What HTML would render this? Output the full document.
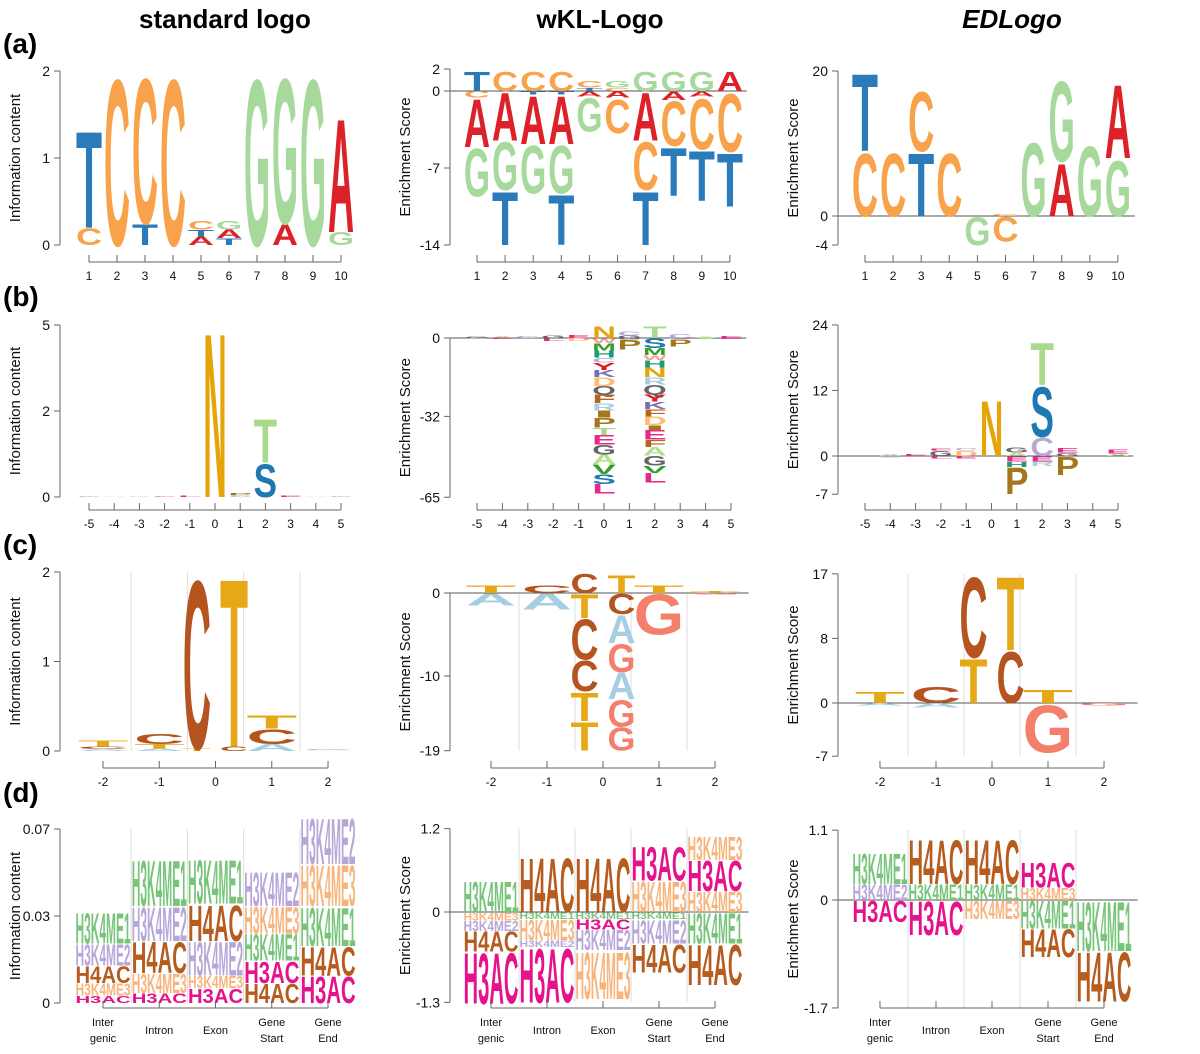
<!DOCTYPE html>
<html><head><meta charset="utf-8">
<style>
html,body{margin:0;padding:0;background:#fff;}
svg{display:block;font-family:"Liberation Sans",sans-serif;}
</style></head>
<body>
<svg id="fig" width="1200" height="1054" viewBox="0 0 1200 1054">
<text x="225" y="28" font-size="26" font-weight="bold" text-anchor="middle">standard logo</text>
<text x="600" y="28" font-size="26" font-weight="bold" text-anchor="middle">wKL-Logo</text>
<text x="1012" y="28" font-size="26" font-weight="bold" font-style="italic" text-anchor="middle">EDLogo</text>
<text x="3" y="53" font-size="28" font-weight="bold">(a)</text>
<text x="3" y="306" font-size="28" font-weight="bold">(b)</text>
<text x="3" y="554" font-size="28" font-weight="bold">(c)</text>
<text x="3" y="802" font-size="28" font-weight="bold">(d)</text>
</svg>
<script>
// ---------- data ----------
const dnaLabels = ["1","2","3","4","5","6","7","8","9","10"];
const aaLabels = ["-5","-4","-3","-2","-1","0","1","2","3","4","5"];
const methLabels = ["-2","-1","0","1","2"];
const regionLabels = [["Inter","genic"],["Intron"],["Exon"],["Gene","Start"],["Gene","End"]];
const methXs = [0,1,1.67,2.33,3,4];
const methWs = [0.9,0.9,0.5,0.5,0.9,0.9];

// row a
const aStdPos = [[["C",0.2],["T",1.15]],[["C",1.98]],[["T",0.25],["C",1.73]],[["C",1.98]],[["A",0.1],["T",0.08],["C",0.1]],[["T",0.08],["A",0.1],["G",0.1]],[["G",1.98]],[["A",0.25],["G",1.73]],[["G",1.98]],[["G",0.15],["A",1.35]]];
const aWklPos = [[["T",1.8]],[["C",1.8]],[["C",1.8]],[["C",1.8]],[["T",0.3],["C",0.6]],[["C",0.3],["G",0.6]],[["G",1.8]],[["G",1.8]],[["G",1.8]],[["A",1.8]]];
const aWklNeg = [[["C",0.6],["A",4.5],["G",4.5]],[["A",4.5],["G",4.5],["T",5]],[["T",0.3],["A",4.5],["G",4.5]],[["T",0.3],["A",4.5],["G",4.5],["T",4.7]],[["A",0.5],["G",3.2]],[["A",0.6],["C",3.2]],[["A",4.5],["C",4.5],["T",5]],[["A",0.8],["C",4.2],["T",4.5]],[["A",0.5],["C",4.8],["T",4.7]],[["C",5.5],["T",5]]];
const aEdPos = [[["C",9],["T",11]],[["C",9]],[["T",9],["C",8.5]],[["C",9]],[],[["C",0.3]],[["G",10.5]],[["A",7.5],["G",11.5]],[["G",10]],[["G",8],["A",10.5]]];
const aEdNeg = [[],[],[],[],[["G",4]],[["C",3.5]],[],[],[],[]];

// row b
const bStdPos = [[["G",0.02]],[["A",0.02]],[["C",0.02]],[["E",0.02]],[["L",0.03]],[["N",4.95]],[["C",0.06],["P",0.06]],[["S",1.0],["T",1.3]],[["E",0.04]],[["A",0.02]],[["G",0.02]]];
const bWklPos = [[["G",0.5]],[["A",0.7]],[["C",0.8]],[["G",1]],[["E",1.3]],[["N",5]],[["G",1],["C",1.5]],[["T",5]],[["C",1.5]],[["A",0.6]],[["E",0.8]]];
const bWklNeg = [[["A",0.3]],[["E",0.5]],[["G",0.3]],[["L",1.2]],[["D",1.3]],[["W",2],["M",3],["H",3],["C",2],["Y",3],["K",3],["D",3.5],["Q",3.5],["F",3.5],["R",3],["I",3],["P",4],["T",3],["E",4],["G",4],["A",4],["V",4],["S",4],["L",4]],[["G",0.7],["P",4]],[["S",4],["M",3],["W",2],["H",3],["N",4],["R",3],["Q",4],["Y",3],["K",3],["F",3],["D",3.5],["I",2],["E",4],["F",3],["A",3.5],["G",4],["V",3],["L",4]],[["C",0.5],["P",3]],[["A",0.4]],[["E",0.4]]];
const bEdPos = [[],[["A",0.4]],[["E",0.3]],[["G",1],["E",0.4]],[["D",1],["C",0.5]],[["N",10.5]],[["A",0.6],["G",1]],[["C",3.5],["S",9.5],["T",8]],[["G",0.6],["E",0.8]],[],[["A",0.5],["E",0.7]]];
const bEdNeg = [[],[["C",0.3]],[],[["L",0.5]],[["E",0.5]],[],[["E",1],["H",1],["P",5]],[["E",1],["R",0.8]],[["P",3.5]],[],[]];

// row c
const cStdPos = [[["A",0.02],["C",0.03],["T",0.07]],[["A",0.03],["T",0.05],["C",0.12]],[["T",0.03],["C",1.95]],[["C",0.05],["T",1.95]],[["A",0.08],["C",0.17],["T",0.15]],[["A",0.01],["C",0.01]]];
const cWklPos = [[["T",1]],[["C",1]],[["C",2.4]],[["T",2.2]],[["T",1]],[["T",0.2]]];
const cWklNeg = [[["A",1.5]],[["A",2]],[["T",3],["C",5],["C",3.8],["T",3.6],["T",3.6]],[["C",2.5],["A",3.5],["G",3.5],["A",3.3],["G",3.3],["G",2.9]],[["G",5]],[["G",0.2]]];
const cEdPos = [[["T",1.5]],[["C",2.2]],[["T",6],["C",11]],[["C",7],["T",10]],[["T",1.8]],[]];
const cEdNeg = [[["A",0.3]],[["A",0.6]],[],[],[["G",6.5]],[["G",0.3]]];

// row d
const dStdPos = [[["H3AC",0.003],["H3K4ME3",0.005],["H4AC",0.007],["H3K4ME2",0.009],["H3K4ME1",0.0126]],[["H3AC",0.004],["H3K4ME3",0.008],["H4AC",0.013],["H3K4ME2",0.014],["H3K4ME1",0.019]],[["H3AC",0.006],["H3K4ME3",0.005],["H3K4ME2",0.014],["H4AC",0.015],["H3K4ME1",0.018]],[["H4AC",0.008],["H3AC",0.009],["H3K4ME1",0.011],["H3K4ME3",0.011],["H3K4ME2",0.014]],[["H3AC",0.011],["H4AC",0.012],["H3K4ME1",0.016],["H3K4ME3",0.017],["H3K4ME2",0.019]]];
const dWklPos = [[["H3K4ME1",0.45]],[["H4AC",0.8]],[["H4AC",0.8]],[["H3K4ME3",0.45],["H3AC",0.5]],[["H3K4ME3",0.3],["H3AC",0.45],["H3K4ME3",0.35]]];
const dWklNeg = [[["H3K4ME3",0.12],["H3K4ME2",0.15],["H4AC",0.3],["H3AC",0.75]],[["H3K4ME1",0.1],["H3K4ME3",0.3],["H3K4ME2",0.1],["H3AC",0.8]],[["H3K4ME1",0.1],["H3AC",0.15],["H3K4ME2",0.3],["H3K4ME3",0.7]],[["H3K4ME1",0.1],["H3K4ME2",0.35],["H4AC",0.42]],[["H3K4ME1",0.45],["H4AC",0.6]]];
const dEdPos = [[["H3K4ME2",0.25],["H3K4ME1",0.5]],[["H3K4ME1",0.25],["H4AC",0.72]],[["H3K4ME1",0.25],["H4AC",0.72]],[["H3K4ME3",0.2],["H3AC",0.4]],[]];
const dEdNeg = [[["H3AC",0.35]],[["H3AC",0.55]],[["H3K4ME3",0.3]],[["H3K4ME1",0.45],["H4AC",0.45]],[["H3K4ME1",0.8],["H4AC",0.8]]];

// ---------- colours ----------
const dnaCol = {A:"#dc2128",C:"#f8a24b",G:"#a6d99b",T:"#2b7bba"};
const aaCol = {N:"#e5a50a",S:"#1f78b4",T:"#a9da8c",P:"#a6761d",C:"#b9a8d6",M:"#33a02c",H:"#1b9e77",Y:"#e31a1c",K:"#7570b3",D:"#fdbf6f",Q:"#666666",F:"#b5651d",R:"#a6cee3",I:"#a6761d",E:"#e7298a",G:"#666666",A:"#b2df8a",V:"#33a02c",L:"#e7298a",W:"#fb9a99"};
const methCol = {C:"#b5541e",T:"#e6a817",A:"#a6cee3",G:"#f4806c"};
const markCol = {H3K4ME1:"#77c47a",H3K4ME2:"#b7a6d8",H3K4ME3:"#f7b47c",H4AC:"#b65c1f",H3AC:"#e5138b"};

// ---------- drawing ----------
const NS = "http://www.w3.org/2000/svg";
const fig = document.getElementById("fig");
function mk(tag, attrs, parent){const e=document.createElementNS(NS,tag);for(const k in attrs)e.setAttribute(k,attrs[k]);parent.appendChild(e);return e;}

function glyph(g, ch, cx, w, yTop, h, color){
  if (h < 0.4) return;
  const t = mk("text",{x:0,y:0,"font-size":100,"font-weight":"bold",textLength:70,lengthAdjust:"spacingAndGlyphs",fill:color,
    transform:`translate(${cx-w/2},${yTop+h}) scale(${w/70},${h/72.5})`}, g);
  
  
  t.textContent = ch;
}

function panel(p){
  const g = mk("g",{},fig);
  
  
  const y = v => p.zeroY - v*p.ppu;
  const n = p.pos.length;
  const xs = p.xs || p.pos.map((_,i)=>i);
  const ws = p.ws || p.pos.map(()=>0.93);
  const px = u => p.x0 + u*p.dx;
  const nT = p.xLabels.length;
  const yMax = y(p.yTicks[0]), yMin = y(p.yTicks[p.yTicks.length-1]);
  if (p.grid){
    for (let i=0;i<nT-1;i++){
      const gl = mk("line",{x1:px(i+0.5),x2:px(i+0.5),y1:yMax,y2:yMin,stroke:"#dddddd","stroke-width":1},g);
      
      
    }
  }
  if (p.zeroLine){
    const zl = mk("line",{x1:p.axisX,x2:px(nT-1)+p.dx*0.6,y1:y(0),y2:y(0),stroke:"#555","stroke-width":1},g);
    
    
  }
  for (let i=0;i<n;i++){
    const cx = px(xs[i]), w = ws[i]*p.dx;
    let acc = 0;
    for (const [ch,v] of p.pos[i]){ glyph(g,ch,cx,w,y(acc+v),v*p.ppu,p.col[ch]); acc+=v; }
    if (p.neg){ acc = 0;
      for (const [ch,v] of p.neg[i]){ glyph(g,ch,cx,w,y(-acc),v*p.ppu,p.col[ch]); acc+=v; } }
  }
  const ya = mk("line",{x1:p.axisX,x2:p.axisX,y1:yMax,y2:yMin,stroke:"#666","stroke-width":1},g);
  
  
  p.yTicks.forEach((v,i)=>{
    mk("line",{x1:p.axisX-6,x2:p.axisX,y1:y(v),y2:y(v),stroke:"#666"},g);
    const tl = mk("text",{x:p.axisX-10,y:y(v)+5,"font-size":14,"text-anchor":"end",fill:"#111"},g);
    
    
    tl.textContent = p.yLabels[i];
  });
  const yt = mk("text",{x:0,y:0,"font-size":15,"text-anchor":"middle",fill:"#111",transform:`translate(${p.axisX-40},${(yMax+yMin)/2}) rotate(-90)`},g);
  
  
  yt.textContent = p.yTitle;
  const xa = mk("line",{x1:px(0),x2:px(nT-1),y1:p.xAxisY,y2:p.xAxisY,stroke:"#666"},g);
  
  
  p.xLabels.forEach((lab,i)=>{
    mk("line",{x1:px(i),x2:px(i),y1:p.xAxisY-7,y2:p.xAxisY,stroke:"#666"},g);
    const lines = Array.isArray(lab)?lab:[lab];
    const fs = Array.isArray(lab)?11:12;
    lines.forEach((s,j)=>{
      let yy = p.xAxisY+18+j*16;
      if (Array.isArray(lab) && lines.length===1) yy += 8;
      const xl = mk("text",{x:px(i),y:yy,"font-size":fs,"text-anchor":"middle",fill:"#111"},g);
      
      
      xl.textContent = s;
    });
  });
}

const IC = "Information content", ES = "Enrichment Score";
panel({name:"panel-a-standard",x0:89,dx:28,zeroY:245,ppu:87,pos:aStdPos,col:dnaCol,axisX:60,yTicks:[2,1,0],yLabels:["2","1","0"],yTitle:IC,xLabels:dnaLabels,xAxisY:262});
panel({name:"panel-a-wkl",x0:477,dx:28.1,zeroY:91,ppu:11,pos:aWklPos,neg:aWklNeg,col:dnaCol,axisX:450,yTicks:[2,0,-7,-14],yLabels:["2","0","-7","-14"],yTitle:ES,xLabels:dnaLabels,xAxisY:262,zeroLine:true});
panel({name:"panel-a-edlogo",x0:865,dx:28.1,zeroY:216,ppu:7.25,pos:aEdPos,neg:aEdNeg,col:dnaCol,axisX:838,yTicks:[20,0,-4],yLabels:["20","0","-4"],yTitle:ES,xLabels:dnaLabels,xAxisY:262,zeroLine:true});
panel({name:"panel-b-standard",x0:89,dx:25.2,zeroY:497,ppu:34.4,pos:bStdPos,col:aaCol,axisX:60,yTicks:[5,2.5,0],yLabels:["5","2","0"],yTitle:IC,xLabels:aaLabels,xAxisY:510});
panel({name:"panel-b-wkl",x0:477,dx:25.4,zeroY:338,ppu:2.45,pos:bWklPos,neg:bWklNeg,col:aaCol,axisX:450,yTicks:[0,-32,-65],yLabels:["0","-32","-65"],yTitle:ES,xLabels:aaLabels,xAxisY:510,zeroLine:true});
panel({name:"panel-b-edlogo",x0:865,dx:25.3,zeroY:456,ppu:5.46,pos:bEdPos,neg:bEdNeg,col:aaCol,axisX:838,yTicks:[24,12,0,-7],yLabels:["24","12","0","-7"],yTitle:ES,xLabels:aaLabels,xAxisY:510,zeroLine:true});
panel({name:"panel-c-standard",x0:103,dx:56.25,zeroY:751,ppu:89.5,pos:cStdPos,xs:methXs,ws:methWs,col:methCol,axisX:60,yTicks:[2,1,0],yLabels:["2","1","0"],yTitle:IC,xLabels:methLabels,xAxisY:768,grid:true});
panel({name:"panel-c-wkl",x0:491,dx:56,zeroY:593,ppu:8.3,pos:cWklPos,neg:cWklNeg,xs:methXs,ws:methWs,col:methCol,axisX:450,yTicks:[0,-10,-19],yLabels:["0","-10","-19"],yTitle:ES,xLabels:methLabels,xAxisY:768,grid:true,zeroLine:true});
panel({name:"panel-c-edlogo",x0:880,dx:56,zeroY:703,ppu:7.6,pos:cEdPos,neg:cEdNeg,xs:methXs,ws:methWs,col:methCol,axisX:838,yTicks:[17,8.5,0,-7],yLabels:["17","8","0","-7"],yTitle:ES,xLabels:methLabels,xAxisY:768,grid:true,zeroLine:true});
panel({name:"panel-d-standard",x0:103,dx:56.25,zeroY:1003,ppu:2486,pos:dStdPos,ws:[0.98,0.98,0.98,0.98,0.98],col:markCol,axisX:60,yTicks:[0.07,0.035,0],yLabels:["0.07","0.03","0"],yTitle:IC,xLabels:regionLabels,xAxisY:1008,grid:true});
panel({name:"panel-d-wkl",x0:491,dx:56,zeroY:912,ppu:69.5,pos:dWklPos,neg:dWklNeg,ws:[0.98,0.98,0.98,0.98,0.98],col:markCol,axisX:450,yTicks:[1.2,0,-1.3],yLabels:["1.2","0","-1.3"],yTitle:ES,xLabels:regionLabels,xAxisY:1008,grid:true,zeroLine:true});
panel({name:"panel-d-edlogo",x0:880,dx:56,zeroY:900,ppu:63.5,pos:dEdPos,neg:dEdNeg,ws:[0.98,0.98,0.98,0.98,0.98],col:markCol,axisX:838,yTicks:[1.1,0,-1.7],yLabels:["1.1","0","-1.7"],yTitle:ES,xLabels:regionLabels,xAxisY:1008,grid:true,zeroLine:true});
</script>
</body></html>
